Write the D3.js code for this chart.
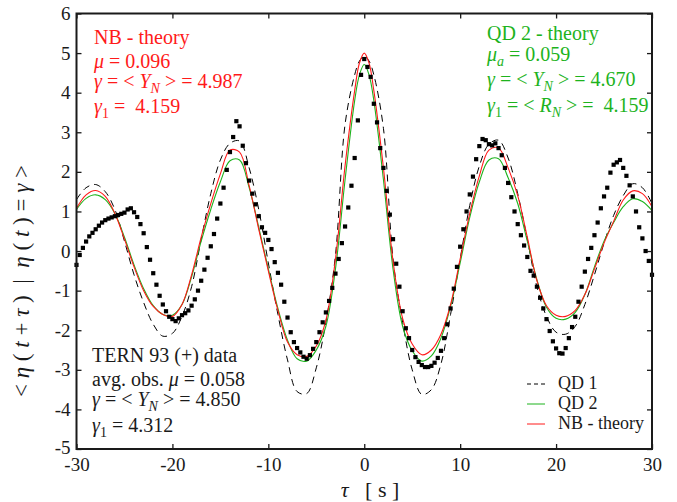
<!DOCTYPE html>
<html><head><meta charset="utf-8">
<script src="https://cdn.jsdelivr.net/npm/d3@7"></script>
<style>
body{margin:0;background:#fff;}
text{font-family:"Liberation Serif","Times New Roman",serif;}
</style></head>
<body><svg id="c" width="677" height="502"></svg>
<script>
// ---------- data ----------
const xTicks = [-30,-20,-10,0,10,20,30];
const yTicks = [-5,-4,-3,-2,-1,0,1,2,3,4,5,6];

// theory grid (tau, s)
const tauTheory = [-30,-29,-28,-27,-26,-25,-24,-23,-22,-21,-20,-19,-18,-17,-16,-15,-14,-13,-12,-11,-10,-9,-8,-7,-6,-5,-4,-3,-2,-1,-0.5,0,0.5,1,2,3,4,5,6,7,8,9,10,11,12,13,14,15,16,17,18,19,20,21,22,23,24,25,26,27,28,29,30];
const nbTheory = [1.08,1.42,1.53,1.38,0.95,0.3,-0.4,-1.0,-1.4,-1.6,-1.65,-1.35,-0.6,0.35,1.2,1.95,2.55,2.5,1.65,0.55,-0.5,-1.5,-2.3,-2.62,-2.66,-2.4,-1.75,-0.2,2.15,4.05,4.75,5.0,4.75,4.05,2.1,-0.25,-1.7,-2.35,-2.62,-2.5,-2.1,-1.35,-0.2,0.95,1.9,2.55,2.6,2.1,1.4,0.35,-0.75,-1.38,-1.62,-1.65,-1.5,-1.1,-0.45,0.2,0.75,1.29,1.52,1.45,1.12];
const qd2Theory = [1.05,1.33,1.42,1.3,0.95,0.35,-0.35,-0.95,-1.38,-1.6,-1.62,-1.35,-0.65,0.25,1.05,1.75,2.28,2.3,1.6,0.6,-0.45,-1.45,-2.25,-2.72,-2.78,-2.5,-1.9,-0.45,1.8,3.8,4.45,4.71,4.45,3.8,1.8,-0.45,-1.9,-2.52,-2.78,-2.65,-2.2,-1.4,-0.3,0.85,1.75,2.3,2.33,1.85,1.2,0.25,-0.72,-1.42,-1.7,-1.72,-1.55,-1.1,-0.4,0.25,0.72,1.12,1.32,1.25,1.02];
const qd1Theory = [1.3,1.6,1.68,1.5,1.05,0.25,-0.6,-1.3,-1.85,-2.15,-2.08,-1.65,-0.9,0.3,1.45,2.3,2.72,2.78,2.1,1.05,-0.3,-1.6,-2.75,-3.55,-3.6,-2.95,-1.8,-0.1,3.2,4.45,4.8,4.92,4.8,4.45,3.1,-0.2,-1.8,-3.0,-3.62,-3.5,-2.85,-1.6,-0.2,1.15,2.15,2.7,2.8,2.35,1.45,0.3,-0.9,-1.65,-2.05,-2.1,-1.9,-1.35,-0.6,0.2,0.9,1.4,1.7,1.6,1.2];

// TERN 93 observed data, sampled every 1/3 s from -30 to 30
const obsValues = [-0.35,-0.10,0.08,0.24,0.37,0.46,0.55,0.64,0.72,0.78,0.82,0.85,0.88,0.91,0.94,0.97,1.05,1.08,0.98,0.86,
0.68,0.45,0.10,-0.22,-0.56,-0.85,-1.13,-1.35,-1.52,-1.66,-1.72,-1.77,-1.70,-1.62,-1.57,-1.50,-1.38,-1.22,-1.00,-0.75,
-0.47,-0.17,0.12,0.43,0.82,1.20,1.60,2.05,2.50,2.88,3.28,3.15,2.66,2.22,1.78,1.45,1.18,0.88,0.60,0.46,
0.28,0.05,-0.28,-0.55,-0.85,-1.28,-1.68,-2.05,-2.30,-2.45,-2.56,-2.67,-2.72,-2.63,-2.47,-2.30,-2.05,-1.80,-1.55,-1.26,
-0.93,-0.57,-0.20,0.20,0.62,1.10,1.65,2.35,3.30,4.45,4.85,4.65,4.40,3.72,3.25,2.60,2.10,1.52,0.92,0.30,
-0.32,-0.90,-1.52,-1.95,-2.20,-2.50,-2.68,-2.80,-2.88,-2.93,-2.93,-2.90,-2.82,-2.70,-2.52,-2.20,-1.85,-1.45,-0.95,-0.40,
0.11,0.55,1.00,1.43,1.88,2.32,2.65,2.83,2.80,2.70,2.67,2.72,2.60,2.42,2.10,1.72,1.36,1.00,0.68,0.40,
0.14,-0.15,-0.50,-0.62,-0.90,-1.18,-1.45,-1.72,-2.02,-2.28,-2.46,-2.58,-2.59,-2.45,-2.20,-1.92,-1.66,-1.28,-0.90,-0.52,
-0.20,0.08,0.40,0.72,1.08,1.38,1.60,1.98,2.18,2.24,2.30,2.10,1.90,1.66,1.38,1.00,0.60,0.32,0.00,-0.25,-0.60];
const obsTau = obsValues.map((v,i) => -30 + i/3);

// ---------- chart ----------
const svg = d3.select("#c");
const L = 76.5, R = 652, T = 13.5, B = 449;
const x = d3.scaleLinear().domain([-30,30]).range([L,R]);
const y = d3.scaleLinear().domain([-5,6]).range([B,T]);
const ink = "#1a1a1a";
const red = "#ff1a1a", green = "#1db31d";

const g = svg.append("g");

// curves
const line = d3.line().x(d=>x(d[0])).y(d=>y(d[1])).curve(d3.curveCatmullRom.alpha(0.5));
svg.append("clipPath").attr("id","pc").append("rect")
  .attr("x",L).attr("y",T).attr("width",R-L).attr("height",B-T);
const plot = g.append("g").attr("clip-path","url(#pc)");
plot.append("path").attr("d", line(d3.zip(tauTheory, qd1Theory)))
  .attr("fill","none").attr("stroke","#000").attr("stroke-width",1).attr("stroke-dasharray","7,5");
plot.append("path").attr("d", line(d3.zip(tauTheory, qd2Theory)))
  .attr("fill","none").attr("stroke",green).attr("stroke-width",1.1);
plot.append("path").attr("d", line(d3.zip(tauTheory, nbTheory)))
  .attr("fill","none").attr("stroke",red).attr("stroke-width",1.1);

// observed points
const sq = 4.2;
g.append("g").selectAll("rect").data(d3.zip(obsTau, obsValues)).join("rect")
  .attr("x", d=>x(d[0])-sq/2).attr("y", d=>y(d[1])-sq/2)
  .attr("width", sq).attr("height", sq).attr("fill","#000");

// axes
const fmt = d => String(d);
const axB = g.append("g").attr("transform",`translate(0,${B})`)
  .call(d3.axisBottom(x).tickValues(xTicks).tickFormat(fmt).tickSize(-5).tickPadding(9));
const axT = g.append("g").attr("transform",`translate(0,${T})`)
  .call(d3.axisTop(x).tickValues(xTicks).tickFormat("").tickSize(-5));
const axL = g.append("g").attr("transform",`translate(${L},0)`)
  .call(d3.axisLeft(y).tickValues(yTicks).tickFormat(fmt).tickSize(-5).tickPadding(6));
const axR = g.append("g").attr("transform",`translate(${R},0)`)
  .call(d3.axisRight(y).tickValues(yTicks).tickFormat("").tickSize(-5));
[axB,axT,axL,axR].forEach(a=>{
  a.select(".domain").remove();
  a.selectAll("line").attr("stroke",ink).attr("stroke-width",1.3);
  a.selectAll("text").attr("font-size",19).attr("fill",ink)
    .attr("font-family",'"Liberation Serif","Times New Roman",serif');
});
axL.selectAll(".tick").filter(d => d === -5).select("text").attr("dy","0.25em");
g.append("rect").attr("x",L).attr("y",T).attr("width",R-L).attr("height",B-T)
  .attr("fill","none").attr("stroke",ink).attr("stroke-width",2);

// axis titles
const xt = svg.append("text").attr("x",370).attr("y",497).attr("text-anchor","middle").attr("font-size",22).attr("fill",ink);
xt.append("tspan").attr("font-style","italic").text("τ");
xt.append("tspan").attr("xml:space","preserve").text("   [ s ]");

const yt = svg.append("text").attr("transform","translate(29,281) rotate(-90)")
  .attr("text-anchor","middle").attr("font-size",23).attr("fill",ink).attr("xml:space","preserve");
[["< ",0],["η",1],[" ( ",0],["t",1],[" + ",0],["τ",1],[" )  |  ",0],["η",1],[" ( ",0],["t",1],[" ) = ",0],["γ",1],[" >",0]]
  .forEach(([s,it])=> yt.append("tspan").attr("font-style", it?"italic":"normal").text(s));

// annotation helper: parts = [text, style] style: n normal, i italic, s subscript(normal), si subscript italic
function ann(xp, yp, parts, color, fs){
  const t = svg.append("text").attr("x",xp).attr("y",yp).attr("font-size",fs).attr("fill",color).attr("xml:space","preserve");
  let sub = false;
  parts.forEach(([s,st])=>{
    const ts = t.append("tspan").text(s);
    const isSub = st==="s"||st==="si";
    if (st==="i"||st==="si") ts.attr("font-style","italic");
    if (isSub) ts.attr("font-size",fs*0.7);
    if (isSub && !sub){ ts.attr("dy",5); }
    if (!isSub && sub){ ts.attr("dy",-5); }
    sub = isSub;
  });
}
const fs = 20;
// NB theory (red)
ann(94,44,[["NB - theory","n"]],red,fs);
ann(94,68,[["μ","i"],[" = 0.096","n"]],red,fs);
ann(94,88,[["γ","i"],[" = < ","n"],["Y","i"],["N","si"],[" > = 4.987","n"]],red,fs);
ann(94,113,[["γ","i"],["1","s"],[" =  4.159","n"]],red,fs);
// QD2 theory (green)
ann(487,40,[["QD 2 - theory","n"]],green,fs);
ann(487,61,[["μ","i"],["a","si"],[" = 0.059","n"]],green,fs);
ann(487,86,[["γ","i"],[" = < ","n"],["Y","i"],["N","si"],[" > = 4.670","n"]],green,fs);
ann(487,112,[["γ","i"],["1","s"],[" = < ","n"],["R","i"],["N","si"],[" > =  4.159","n"]],green,fs);
// TERN data (black)
ann(92,362,[["TERN 93 (+) data","n"]],ink,fs);
ann(92,386,[["avg. obs. ","n"],["μ","i"],[" = 0.058","n"]],ink,fs);
ann(92,406,[["γ","i"],[" = < ","n"],["Y","i"],["N","si"],[" > = 4.850","n"]],ink,fs);
ann(92,432,[["γ","i"],["1","s"],[" = 4.312","n"]],ink,fs);

// legend
const leg = [["QD 1","#000","4,3",384],["QD 2",green,null,404],["NB - theory",red,null,424]];
leg.forEach(([lab,col,dash,yy])=>{
  const l = svg.append("line").attr("x1",527).attr("x2",545).attr("y1",yy).attr("y2",yy)
    .attr("stroke",col).attr("stroke-width",1);
  if (dash) l.attr("stroke-dasharray",dash);
  svg.append("text").attr("x",558).attr("y",yy+5).attr("font-size",18).attr("fill",ink).text(lab);
});
</script></body></html>
